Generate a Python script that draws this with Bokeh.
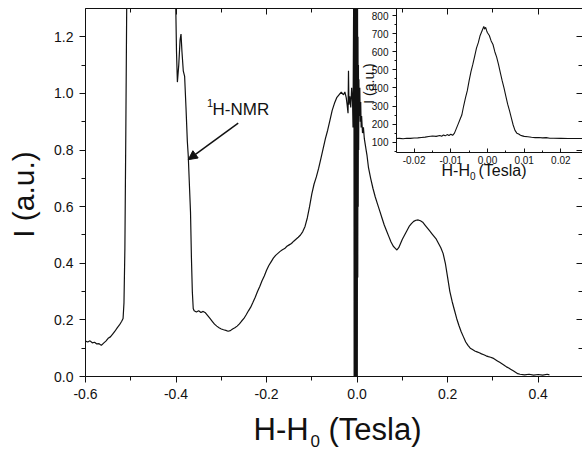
import math
from bokeh.plotting import figure
from bokeh.models import (Range1d, LinearAxis, FixedTicker, PrintfTickFormatter,
                          Label, Arrow, NormalHead, ColumnDataSource)
from bokeh.layouts import column
from bokeh.embed import file_html
from bokeh.resources import INLINE

# ---------------- data: main spectrum ----------------
field = [-0.600, -0.595, -0.590, -0.585, -0.580, -0.575, -0.570, -0.565, -0.560, -0.555,
         -0.550, -0.545, -0.540, -0.535, -0.530, -0.525, -0.520, -0.517, -0.515, -0.513,
         -0.511, -0.509, -0.507,
         -0.500, -0.480, -0.460, -0.440, -0.420, -0.405, -0.401,
         -0.399, -0.397, -0.394, -0.391, -0.389, -0.387, -0.384, -0.381, -0.378, -0.375,
         -0.373, -0.370, -0.368, -0.366, -0.364, -0.362, -0.360, -0.355, -0.350, -0.345,
         -0.340, -0.335, -0.330, -0.325, -0.320, -0.315, -0.310, -0.305, -0.300, -0.295,
         -0.290, -0.285, -0.280, -0.275, -0.270, -0.265, -0.260, -0.255, -0.250, -0.245,
         -0.240, -0.235, -0.230, -0.225, -0.220, -0.215, -0.210, -0.205, -0.200, -0.195,
         -0.190, -0.185, -0.180, -0.175, -0.170, -0.165, -0.160, -0.155, -0.150, -0.145,
         -0.140, -0.135, -0.130, -0.125, -0.120, -0.115, -0.110, -0.105, -0.100, -0.095,
         -0.090, -0.085, -0.080, -0.075, -0.070, -0.065, -0.060, -0.055, -0.050, -0.045,
         -0.040, -0.035, -0.030, -0.027, -0.024, -0.022, -0.020, -0.019, -0.018, -0.016,
         -0.014, -0.012, -0.010, -0.009, -0.008,
         -0.0070, -0.0065, -0.0060, -0.0055, -0.0050, -0.0045, -0.0040, -0.0035, -0.0030,
         -0.0025, -0.0020, -0.0015, -0.0010, -0.0005, 0.0000, 0.0005, 0.0010, 0.0015,
         0.0020, 0.0025, 0.0030, 0.0035, 0.0040, 0.0050, 0.0060, 0.0070, 0.0080, 0.0090,
         0.010, 0.012, 0.014, 0.016, 0.018, 0.020, 0.022, 0.025, 0.030, 0.035,
         0.040, 0.045, 0.050, 0.055, 0.060, 0.065, 0.070, 0.075, 0.080, 0.085,
         0.088, 0.092, 0.096, 0.100, 0.105, 0.110, 0.115, 0.120, 0.125, 0.130,
         0.135, 0.140, 0.145, 0.150, 0.155, 0.160, 0.165, 0.170, 0.175, 0.180,
         0.185, 0.190, 0.195, 0.200, 0.205, 0.210, 0.215, 0.220, 0.225, 0.230,
         0.235, 0.240, 0.245, 0.250, 0.255, 0.260, 0.265, 0.270, 0.275, 0.280,
         0.285, 0.290, 0.295, 0.300, 0.305, 0.310, 0.315, 0.320, 0.325, 0.330,
         0.335, 0.340, 0.345, 0.350, 0.355, 0.360, 0.370, 0.380, 0.390, 0.400,
         0.410, 0.420, 0.425]
intensity = [0.125, 0.122, 0.126, 0.119, 0.121, 0.115, 0.116, 0.110, 0.118, 0.125,
             0.135, 0.140, 0.150, 0.160, 0.172, 0.182, 0.195, 0.205, 0.260, 0.450,
             0.850, 1.300, 1.800,
             2.400, 3.000, 3.200, 3.000, 2.500, 1.800, 1.350,
             1.150, 1.040, 1.100, 1.190, 1.210, 1.150, 1.080, 1.060, 0.950, 0.830,
             0.780, 0.660, 0.580, 0.420, 0.300, 0.240, 0.232, 0.228, 0.232, 0.226,
             0.230, 0.225, 0.215, 0.205, 0.195, 0.185, 0.178, 0.172, 0.168, 0.165,
             0.163, 0.160, 0.162, 0.168, 0.172, 0.178, 0.186, 0.196, 0.205, 0.218,
             0.232, 0.245, 0.262, 0.280, 0.300, 0.318, 0.338, 0.355, 0.375, 0.392,
             0.405, 0.418, 0.428, 0.435, 0.442, 0.448, 0.452, 0.460, 0.465, 0.470,
             0.478, 0.485, 0.492, 0.500, 0.512, 0.530, 0.560, 0.600, 0.645, 0.680,
             0.705, 0.735, 0.770, 0.805, 0.840, 0.870, 0.905, 0.940, 0.965, 0.985,
             0.995, 1.005, 0.995, 1.005, 0.985, 0.960, 0.930, 1.080, 0.960, 0.990,
             0.950, 1.020, 0.970, 0.880, 1.200,
             1.500, 0.000, 1.600, 0.000, 1.700, 0.000, 1.800, 0.000, 1.600,
             0.000, 1.500, 0.000, 1.400, 0.000, 1.300, 0.000, 1.350, 0.350,
             1.200, 0.600, 1.100, 0.800, 1.050, 0.920, 1.020, 0.900, 0.970, 0.880,
             0.920, 0.860, 0.880, 0.840, 0.820, 0.800, 0.780, 0.740, 0.700, 0.665,
             0.635, 0.610, 0.585, 0.560, 0.535, 0.515, 0.495, 0.475, 0.460, 0.452,
             0.447, 0.455, 0.470, 0.485, 0.500, 0.515, 0.530, 0.540, 0.548, 0.552,
             0.553, 0.550, 0.545, 0.535, 0.525, 0.515, 0.505, 0.495, 0.485, 0.470,
             0.455, 0.435, 0.400, 0.350, 0.300, 0.265, 0.235, 0.205, 0.180, 0.158,
             0.140, 0.122, 0.110, 0.100, 0.095, 0.090, 0.087, 0.084, 0.080, 0.077,
             0.073, 0.070, 0.068, 0.065, 0.060, 0.055, 0.050, 0.045, 0.040, 0.034,
             0.030, 0.025, 0.020, 0.015, 0.010, 0.008, 0.006, 0.008, 0.005, 0.007,
             0.005, 0.008, 0.006]

x_major = [-0.6, -0.4, -0.2, 0.0, 0.2, 0.4]
x_minor = [-0.5, -0.3, -0.1, 0.1, 0.3]
y_major = [0.0, 0.2, 0.4, 0.6, 0.8, 1.0, 1.2]
y_minor = [0.1, 0.3, 0.5, 0.7, 0.9, 1.1]

# ---------------- data: inset ----------------
inset_field = [-0.0250, -0.0240, -0.0230, -0.0220, -0.0210, -0.0200, -0.0190, -0.0180, -0.0170,
               -0.0160, -0.0150, -0.0140, -0.0130, -0.0125, -0.0120, -0.0115, -0.0110, -0.0105,
               -0.0100, -0.0095, -0.0090, -0.0085, -0.0080, -0.0075, -0.0070, -0.0065, -0.0060,
               -0.0055, -0.0050, -0.0045, -0.0040, -0.0035, -0.0030, -0.0025, -0.0020, -0.0015,
               -0.0010, -0.0008, -0.0005, -0.0002, 0.0000, 0.0005, 0.0010, 0.0015, 0.0020,
               0.0025, 0.0030, 0.0035, 0.0040, 0.0045, 0.0050, 0.0055, 0.0060, 0.0065,
               0.0070, 0.0075, 0.0080, 0.0085, 0.0090, 0.0095, 0.0100, 0.0110, 0.0120,
               0.0130, 0.0140, 0.0150, 0.0160, 0.0170, 0.0180, 0.0200, 0.0220, 0.0240, 0.0260]
inset_counts = [120, 121, 119, 122, 121, 123, 124, 126, 128,
                131, 134, 132, 137, 133, 140, 135, 142, 137,
                144, 138, 150, 175, 200, 225, 250, 300, 345,
                385, 440, 490, 530, 575, 620, 650, 690, 715,
                740, 725, 735, 715, 705, 690, 660, 640, 600,
                570, 530, 485, 440, 400, 355, 310, 275, 235,
                195, 165, 150, 145, 138, 135, 132, 130, 127,
                125, 126, 124, 125, 122, 122, 121, 120, 120, 120]

ix_major = [-0.02, -0.01, 0.0, 0.01, 0.02]
ix_minor = [-0.015, -0.005, 0.005, 0.015]
iy_major = [100, 200, 300, 400, 500, 600, 700, 800]
iy_minor = [50, 150, 250, 350, 450, 550, 650, 750]

FONT = "Liberation Sans"
INK = "#111111"

# ---------------- main figure ----------------
p = figure(width=574, height=444, x_range=Range1d(-0.6, 0.498), y_range=Range1d(0, 1.3),
           output_backend="svg", toolbar_location=None, frame_align=False,
           min_border_left=77, min_border_right=0, min_border_top=0, min_border_bottom=76)
p.grid.visible = False
p.outline_line_color = None
p.background_fill_color = "white"
p.border_fill_color = "white"

src = ColumnDataSource(dict(x=field, y=intensity))
p.line("x", "y", source=src, line_color=INK, line_width=1.2)

def style_axis(ax, label_size, tick_out, minor_out, tick_in=0, minor_in=0, standoff=6):
    ax.axis_line_color = INK
    ax.major_tick_line_color = INK
    ax.minor_tick_line_color = INK
    ax.major_tick_out = tick_out
    ax.minor_tick_out = minor_out
    ax.major_tick_in = tick_in
    ax.minor_tick_in = minor_in
    ax.major_label_text_font = FONT
    ax.major_label_text_font_size = label_size
    ax.major_label_text_color = INK
    ax.major_label_standoff = standoff

p.xaxis.ticker = FixedTicker(ticks=x_major, minor_ticks=x_minor)
p.yaxis.ticker = FixedTicker(ticks=y_major, minor_ticks=y_minor)
p.xaxis.formatter = PrintfTickFormatter(format="%.1f")
p.yaxis.formatter = PrintfTickFormatter(format="%.1f")
style_axis(p.xaxis[0], "14px", 6, 4, standoff=6)
style_axis(p.yaxis[0], "14px", 6, 4, standoff=6)

top_ax = LinearAxis(ticker=FixedTicker(ticks=x_major, minor_ticks=x_minor))
style_axis(top_ax, "0px", 0, 0, tick_in=6, minor_in=4, standoff=0)
top_ax.major_label_text_alpha = 0
p.add_layout(top_ax, "above")

right_ax = LinearAxis(ticker=FixedTicker(ticks=y_major, minor_ticks=y_minor))
style_axis(right_ax, "0px", 0, 0, tick_in=6, minor_in=4, standoff=0)
right_ax.major_label_text_alpha = 0
right_ax.axis_line_color = None
p.add_layout(right_ax, "right")

p.add_layout(Arrow(x_start=-0.2626, y_start=0.895, x_end=-0.373, y_end=0.766,
                   line_color=INK, line_width=1.5,
                   end=NormalHead(size=9, fill_color=INK, line_color=INK)))

# ---------------- inset ----------------
ins = figure(width=236, height=184, x_range=Range1d(-0.0248, 0.0259), y_range=Range1d(43, 839),
             output_backend="svg", toolbar_location=None, frame_align=False,
             min_border_left=50, min_border_right=0, min_border_top=0, min_border_bottom=40,
             margin=(-444, 0, 0, 338))
ins.grid.visible = False
ins.outline_line_color = None
ins.background_fill_alpha = 0
ins.border_fill_alpha = 0
isrc = ColumnDataSource(dict(x=inset_field, y=inset_counts))
ins.line("x", "y", source=isrc, line_color=INK, line_width=1.1)
ins.xaxis.ticker = FixedTicker(ticks=ix_major, minor_ticks=ix_minor)
ins.yaxis.ticker = FixedTicker(ticks=iy_major, minor_ticks=iy_minor)
ins.xaxis.formatter = PrintfTickFormatter(format="%.2f")
ins.yaxis.formatter = PrintfTickFormatter(format="%d")
style_axis(ins.xaxis[0], "10px", 0, 0, tick_in=4, minor_in=2, standoff=3)
style_axis(ins.yaxis[0], "10px", 4, 2, standoff=4)

# ---------------- text overlay (pixel space of the main figure) ----------------
ov = figure(width=574, height=452, x_range=Range1d(0, 574), y_range=Range1d(452, 0),
            output_backend="svg", toolbar_location=None, frame_align=False, title=None,
            x_axis_location=None, y_axis_location=None,
            min_border_left=0, min_border_right=0, min_border_top=0, min_border_bottom=0,
            margin=(-192, 0, 0, 0))
ov.grid.visible = False
ov.outline_line_color = None
ov.background_fill_alpha = 0
ov.border_fill_alpha = 0

def txt(x, y, s, size, **kw):
    ov.add_layout(Label(x=x, y=y, text=s, text_font=FONT, text_font_size=size,
                        text_color=INK, text_baseline=kw.pop("baseline", "alphabetic"), **kw))

# main axis titles
txt(15, 194, "I (a.u.)", "30px", angle=math.pi / 2, text_align="center", baseline="middle")
txt(245, 428.7, "H-H", "31px")
txt(302, 440, "0", "17px")
txt(320, 428.7, "(Tesla)", "31px")
# 1H-NMR annotation
txt(204, 109, "H-NMR", "17px")
txt(198.5, 102, "1", "11px")
# inset titles
txt(360, 83, "I (a.u.)", "14px", angle=math.pi / 2, text_align="center", baseline="middle")
txt(433, 169.7, "H-H", "16px")
txt(461.5, 175, "0", "10px")
txt(470, 169.7, "(Tesla)", "16px")

layout = column(p, ins, ov, margin=(8, 0, 0, 8))
open("out.html", "w").write(file_html(layout, INLINE))
